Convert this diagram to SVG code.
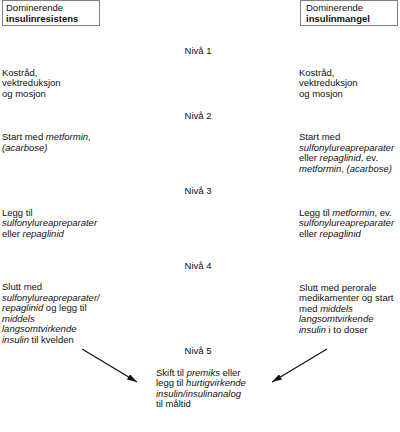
<svg xmlns="http://www.w3.org/2000/svg" width="400" height="432" viewBox="0 0 400 432">
<defs>
<style>
text{font-family:"Liberation Sans",Arial,sans-serif;font-size:9.5px;fill:#111}
.b{font-weight:bold}
.i{font-style:italic}
.c{text-anchor:middle}
.box{fill:#fff;stroke:#808080;stroke-width:1}
.arr{stroke:#111;stroke-width:1.3;fill:none;marker-end:url(#ah)}
</style>
<marker id="ah" viewBox="0 0 10 6" refX="10" refY="3" markerWidth="10" markerHeight="6" markerUnits="userSpaceOnUse" orient="auto">
<path d="M0,0 L10,3 L0,6 Z" fill="#111"/>
</marker>
</defs>
<rect width="400" height="432" fill="#fff"/>
<g id="header-left">
<rect class="box" x="2.5" y="0.5" width="97" height="25"/>
<text x="6" y="11">Dominerende</text>
<text x="6" y="21.5" class="b">insulinresistens</text>
</g>
<g id="header-right">
<rect class="box" x="300.5" y="0.5" width="97" height="25"/>
<text x="306" y="11">Dominerende</text>
<text x="306" y="21.5" class="b">insulinmangel</text>
</g>
<g id="levels">
<text x="198" y="53.5" class="c">Nivå 1</text>
<text x="198" y="118.5" class="c">Nivå 2</text>
<text x="198" y="193.5" class="c">Nivå 3</text>
<text x="198" y="268.5" class="c">Nivå 4</text>
<text x="198" y="353.5" class="c">Nivå 5</text>
</g>
<g id="l1-left">
<text x="2" y="75.5">Kostråd,</text>
<text x="2" y="86">vektreduksjon</text>
<text x="2" y="96.5">og mosjon</text>
</g>
<g id="l1-right">
<text x="299" y="75.5">Kostråd,</text>
<text x="299" y="86">vektreduksjon</text>
<text x="299" y="96.5">og mosjon</text>
</g>
<g id="l2-left">
<text x="2" y="140">Start med <tspan class="i">metformin</tspan>,</text>
<text x="2" y="150.5" class="i">(acarbose)</text>
</g>
<g id="l2-right">
<text x="299" y="140">Start med</text>
<text x="299" y="150.5" class="i">sulfonylureapreparater</text>
<text x="299" y="161">eller <tspan class="i">repaglinid</tspan>, ev.</text>
<text x="299" y="171.5"><tspan class="i">metformin</tspan>, <tspan class="i">(acarbose)</tspan></text>
</g>
<g id="l3-left">
<text x="2" y="215.5">Legg til</text>
<text x="2" y="226" class="i">sulfonylureapreparater</text>
<text x="2" y="236.5">eller <tspan class="i">repaglinid</tspan></text>
</g>
<g id="l3-right">
<text x="299" y="215.5">Legg til <tspan class="i">metformin</tspan>, ev.</text>
<text x="299" y="226" class="i">sulfonylureapreparater</text>
<text x="299" y="236.5">eller <tspan class="i">repaglinid</tspan></text>
</g>
<g id="l4-left">
<text x="2" y="290">Slutt med</text>
<text x="2" y="300.5" class="i">sulfonylureapreparater/</text>
<text x="2" y="311"><tspan class="i">repaglinid</tspan> og legg til</text>
<text x="2" y="321.5" class="i">middels</text>
<text x="2" y="332" class="i">langsomtvirkende</text>
<text x="2" y="342.5"><tspan class="i">insulin</tspan> til kvelden</text>
</g>
<g id="l4-right">
<text x="299" y="290.5">Slutt med perorale</text>
<text x="299" y="301">medikamenter og start</text>
<text x="299" y="311.5">med <tspan class="i">middels</tspan></text>
<text x="299" y="322" class="i">langsomtvirkende</text>
<text x="299" y="332.5"><tspan class="i">insulin</tspan> i to doser</text>
</g>
<g id="l5">
<text x="156" y="375.5">Skift til <tspan class="i">premiks</tspan> eller</text>
<text x="156" y="386">legg til <tspan class="i">hurtigvirkende</tspan></text>
<text x="156" y="396.5" class="i">insulin/insulinanalog</text>
<text x="156" y="407">til måltid</text>
</g>
<g id="connectors">
<line class="arr" x1="82" y1="349" x2="137" y2="382"/>
<line class="arr" x1="327" y1="349" x2="272" y2="382"/>
</g>
</svg>
